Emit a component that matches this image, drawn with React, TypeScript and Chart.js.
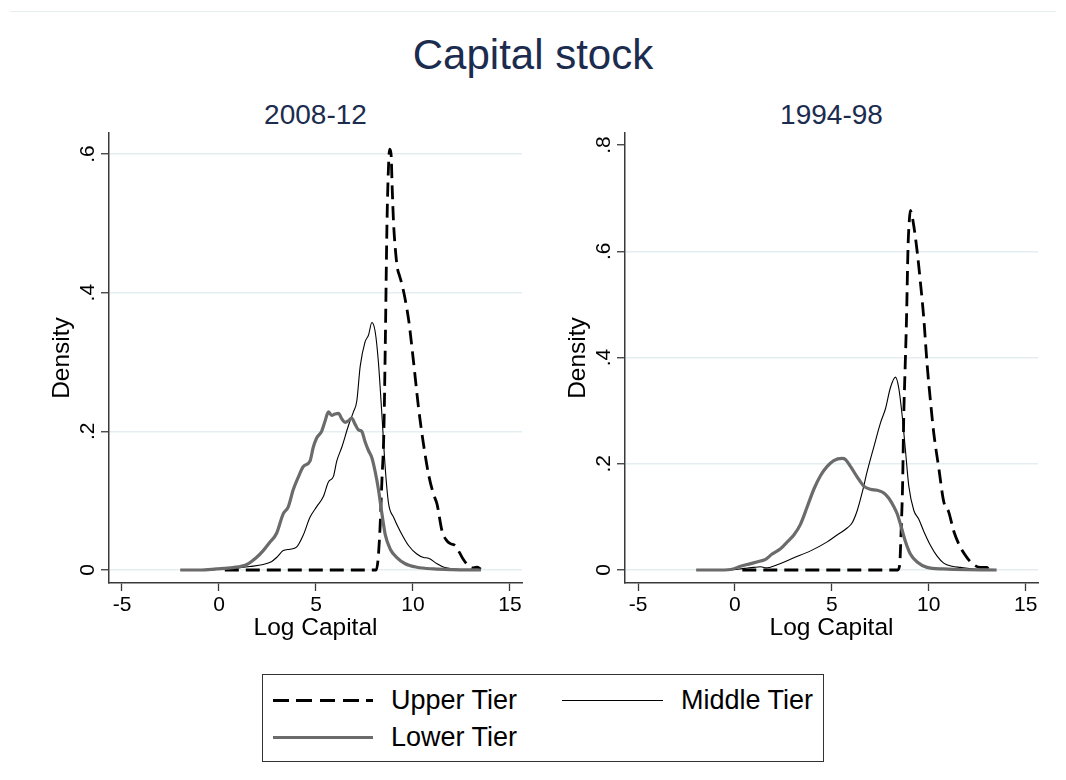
import React, { useEffect, useRef } from 'react';
import { Chart, registerables } from 'chart.js';
Chart.register(...registerables);

const FONT = "'Liberation Sans', Arial, Helvetica, sans-serif";
const AXIS = '#3a3a3a';
const GRID = 'rgb(228,237,240)';
const TITLE_COLOR = '#1c2c4e';

const MAIN_TITLE = 'Capital stock';
const PANEL_TITLES = ['2008-12', '1994-98'];
const SERIES_LABELS = ['Upper Tier', 'Middle Tier', 'Lower Tier'];
const X_TITLE = 'Log Capital';
const Y_TITLE = 'Density';
const X_TICKS = [-5, 0, 5, 10, 15];
const Y_TICKS_2008 = [0, 0.2, 0.4, 0.6];
const Y_TICKS_1994 = [0, 0.2, 0.4, 0.6, 0.8];

// ---- 2008-12 ----
const upperX_2008 = [0.3, 8.1, 8.2, 8.3, 8.4, 8.5, 8.57, 8.66, 8.75, 8.8, 8.87, 8.93, 9.0, 9.1, 9.2, 9.3, 9.45, 9.6, 9.78, 10.03, 10.29, 10.55, 10.81, 11.05, 11.24, 11.5, 11.75, 11.93, 12.19, 12.4, 12.6, 12.8, 13.05, 13.3, 13.5];
const upperY_2008 = [0, 0, 0.015, 0.06, 0.13, 0.2, 0.32, 0.5, 0.59, 0.607, 0.6, 0.55, 0.5, 0.46, 0.435, 0.425, 0.41, 0.39, 0.36, 0.3, 0.233, 0.18, 0.137, 0.11, 0.095, 0.056, 0.042, 0.038, 0.035, 0.025, 0.015, 0.008, 0.003, 0.004, 0.001];
const middleX_2008 = [-0.5, 0, 0.5, 1.0, 1.59, 2.28, 2.7, 2.97, 3.31, 3.66, 4.0, 4.34, 4.69, 5.03, 5.38, 5.64, 5.9, 6.07, 6.33, 6.67, 6.93, 7.1, 7.28, 7.53, 7.71, 7.88, 8.05, 8.22, 8.4, 8.57, 8.74, 9.0, 9.34, 9.78, 10.2, 10.55, 10.8, 11.24, 11.6, 12.3, 13.5];
const middleY_2008 = [0, 0.001, 0.002, 0.003, 0.005, 0.008, 0.012, 0.018, 0.028, 0.03, 0.033, 0.05, 0.076, 0.091, 0.106, 0.127, 0.135, 0.157, 0.177, 0.208, 0.228, 0.243, 0.294, 0.329, 0.339, 0.357, 0.344, 0.299, 0.223, 0.147, 0.096, 0.076, 0.056, 0.035, 0.023, 0.018, 0.017, 0.009, 0.004, 0.001, 0];
const lowerX_2008 = [-2, -1, -0.14, 0.72, 1.41, 1.93, 2.28, 2.62, 2.97, 3.31, 3.57, 3.83, 4.09, 4.34, 4.69, 4.86, 5.03, 5.29, 5.47, 5.64, 5.81, 5.98, 6.16, 6.33, 6.5, 6.67, 6.84, 7.02, 7.19, 7.36, 7.53, 7.71, 7.88, 8.05, 8.22, 8.4, 8.57, 8.83, 9.17, 9.6, 10.2, 11.07, 12, 13.5];
const lowerY_2008 = [0, 0, 0.0015, 0.0035, 0.0076, 0.018, 0.028, 0.04, 0.053, 0.081, 0.091, 0.116, 0.134, 0.149, 0.157, 0.177, 0.19, 0.2, 0.215, 0.228, 0.223, 0.225, 0.226, 0.218, 0.213, 0.215, 0.219, 0.21, 0.202, 0.2, 0.185, 0.172, 0.162, 0.142, 0.116, 0.081, 0.051, 0.03, 0.018, 0.009, 0.004, 0.0015, 0.0005, 0];

// ---- 1994-98 ----
const upperX_1994 = [0.38, 8.4, 8.5, 8.58, 8.65, 8.71, 8.78, 8.85, 8.93, 9.0, 9.05, 9.12, 9.23, 9.4, 9.57, 9.74, 9.91, 10.09, 10.26, 10.52, 10.77, 11.03, 11.29, 11.63, 11.98, 12.32, 12.66, 13.0, 13.1];
const upperY_1994 = [0, 0, 0.01, 0.08, 0.16, 0.29, 0.38, 0.47, 0.607, 0.66, 0.677, 0.67, 0.647, 0.6, 0.541, 0.475, 0.389, 0.317, 0.257, 0.191, 0.129, 0.109, 0.073, 0.043, 0.023, 0.01, 0.005, 0.005, 0];
const middleX_1994 = [-0.2, 0.5, 0.98, 1.32, 1.6, 2.18, 3.04, 3.9, 4.76, 5.27, 5.79, 6.05, 6.31, 6.56, 6.82, 7.16, 7.51, 7.77, 8.02, 8.28, 8.45, 8.63, 8.8, 8.97, 9.23, 9.48, 9.74, 10.09, 10.43, 10.77, 11.2, 11.63, 12.32, 13.0];
const middleY_1994 = [0, 0.003, 0.005, 0.006, 0.004, 0.01, 0.023, 0.036, 0.053, 0.066, 0.079, 0.089, 0.112, 0.145, 0.185, 0.231, 0.277, 0.304, 0.343, 0.363, 0.343, 0.29, 0.224, 0.158, 0.112, 0.096, 0.073, 0.046, 0.026, 0.013, 0.007, 0.005, 0.002, 0];
const lowerX_1994 = [-2, -1, -0.22, 0.29, 0.81, 1.32, 1.58, 1.92, 2.35, 2.7, 3.04, 3.38, 3.73, 4.07, 4.42, 4.76, 5.1, 5.53, 5.7, 5.96, 6.31, 6.65, 6.99, 7.34, 7.68, 7.94, 8.2, 8.37, 8.54, 8.8, 9.05, 9.4, 9.91, 10.77, 12, 13.5];
const lowerY_1994 = [0, 0, 0.001, 0.007, 0.012, 0.017, 0.02, 0.03, 0.04, 0.053, 0.066, 0.086, 0.119, 0.152, 0.178, 0.195, 0.206, 0.21, 0.208, 0.195, 0.175, 0.158, 0.152, 0.15, 0.145, 0.135, 0.119, 0.106, 0.086, 0.053, 0.03, 0.015, 0.005, 0.002, 0.0005, 0];

type PanelSpec = {
  left: number; width: number; yWidth: number; padRight: number;
  xMin: number; xMax: number; yMin: number; yMax: number; yTicks: number[];
  yTitlePad: number;
  upper: [number[], number[]]; middle: [number[], number[]]; lower: [number[], number[]];
};

const PANELS: PanelSpec[] = [
  {
    left: 0, width: 533, yWidth: 109, padRight: 11,
    xMin: -5.67, xMax: 15.62, yMin: -0.01875, yMax: 0.6303, yTicks: Y_TICKS_2008,
    yTitlePad: 48,
    upper: [upperX_2008, upperY_2008], middle: [middleX_2008, middleY_2008], lower: [lowerX_2008, lowerY_2008],
  },
  {
    left: 533, width: 533, yWidth: 92, padRight: 28,
    xMin: -5.671, xMax: 15.635, yMin: -0.02447, yMax: 0.8226, yTicks: Y_TICKS_1994,
    yTitlePad: 31,
    upper: [upperX_1994, upperY_1994], middle: [middleX_1994, middleY_1994], lower: [lowerX_1994, lowerY_1994],
  },
];

const CANVAS_H = 660;
const PLOT_TOP = 133;
const PLOT_BOTTOM = 583;
const TICK_FONT = 21;
const AXIS_TITLE_FONT = 24.5;

const toPts = (xs: number[], ys: number[]) => xs.map((x, i) => ({ x, y: ys[i] }));

function buildConfig(p: PanelSpec): any {
  const common = { pointRadius: 0, fill: false, cubicInterpolationMode: 'monotone', borderCapStyle: 'butt', borderJoinStyle: 'round' };
  return {
    type: 'line',
    data: {
      datasets: [
        { ...common, label: SERIES_LABELS[0], data: toPts(p.upper[0], p.upper[1]), borderColor: '#000', borderWidth: 2.8, borderDash: [14, 7], order: 3 },
        { ...common, label: SERIES_LABELS[1], data: toPts(p.middle[0], p.middle[1]), borderColor: '#000', borderWidth: 1.1, order: 2 },
        { ...common, label: SERIES_LABELS[2], data: toPts(p.lower[0], p.lower[1]), borderColor: '#6b6b6b', borderWidth: 3.2, order: 1 },
      ],
    },
    options: {
      responsive: false,
      animation: false,
      devicePixelRatio: 1,
      layout: { padding: { left: 0, top: PLOT_TOP, right: p.padRight, bottom: 0 } },
      plugins: { legend: { display: false }, title: { display: false }, tooltip: { enabled: false } },
      scales: {
        x: {
          type: 'linear', min: p.xMin, max: p.xMax,
          afterBuildTicks: (s: any) => { s.ticks = X_TICKS.map((v) => ({ value: v })); },
          afterFit: (s: any) => { s.height = CANVAS_H - PLOT_BOTTOM; },
          grid: { drawOnChartArea: false, drawTicks: true, tickLength: 8, tickColor: AXIS, tickWidth: 1.3 },
          border: { display: true, color: AXIS, width: 1.5 },
          ticks: { color: '#000', font: { family: FONT, size: TICK_FONT }, padding: 2, maxRotation: 0, minRotation: 0, autoSkip: false, callback: (v: any) => String(v) },
          title: { display: true, text: X_TITLE, color: '#000', font: { family: FONT, size: AXIS_TITLE_FONT }, padding: { top: 0, bottom: 17 } },
        },
        y: {
          type: 'linear', min: p.yMin, max: p.yMax,
          afterBuildTicks: (s: any) => { s.ticks = p.yTicks.map((v) => ({ value: v })); },
          afterFit: (s: any) => { s.width = p.yWidth; },
          grid: {
            color: (c: any) => (c.tick && c.tick.value === 0.8 ? 'rgba(0,0,0,0)' : GRID),
            lineWidth: 1.5, drawTicks: true, tickLength: 8, tickColor: AXIS, tickWidth: 1.3,
          },
          border: { display: true, color: AXIS, width: 1.5 },
          ticks: {
            color: '#000', font: { family: FONT, size: TICK_FONT }, padding: 4, minRotation: 90, maxRotation: 90, crossAlign: 'center', autoSkip: false,
            callback: (v: any) => (v === 0 ? '0' : String(v).replace(/^0/, '')),
          },
          title: { display: true, text: Y_TITLE, color: '#000', font: { family: FONT, size: AXIS_TITLE_FONT }, padding: { top: p.yTitlePad, bottom: 0 } },
        },
      },
    },
  };
}

function Panel({ spec }: { spec: PanelSpec }) {
  const ref = useRef<HTMLCanvasElement>(null);
  useEffect(() => {
    const chart = new Chart(ref.current as HTMLCanvasElement, buildConfig(spec));
    return () => chart.destroy();
  }, [spec]);
  return (
    <canvas
      ref={ref}
      width={spec.width}
      height={CANVAS_H}
      style={{ position: 'absolute', left: spec.left, top: 0, width: spec.width, height: CANVAS_H }}
    />
  );
}

const abs = (s: React.CSSProperties): React.CSSProperties => ({ position: 'absolute', ...s });

export default function App() {
  const legendFont = 27;
  const titleFont = 42;
  return (
    <div style={abs({ left: 0, top: 0, width: 1066, height: 780, background: '#fff', fontFamily: FONT, overflow: 'hidden' })}>
      <div style={abs({ left: 10, top: 11, width: 1046, height: 1, background: 'rgb(230,238,240)' })} />
      <div style={abs({ left: 0, top: 55 - 0.49 * titleFont, width: 1066, textAlign: 'center', fontSize: titleFont, lineHeight: titleFont + 'px', color: TITLE_COLOR, whiteSpace: 'nowrap' })}>{MAIN_TITLE}</div>
      <div style={abs({ left: 109, top: 101, width: 413, textAlign: 'center', fontSize: 28, lineHeight: '28px', color: TITLE_COLOR, whiteSpace: 'nowrap' })}>{PANEL_TITLES[0]}</div>
      <div style={abs({ left: 625, top: 101, width: 413, textAlign: 'center', fontSize: 28, lineHeight: '28px', color: TITLE_COLOR, whiteSpace: 'nowrap' })}>{PANEL_TITLES[1]}</div>
      {PANELS.map((p, i) => <Panel key={i} spec={p} />)}
      <div style={abs({ left: 262, top: 674, width: 562, height: 88, boxSizing: 'border-box', border: '1px solid #333' })} />
      <div style={abs({ left: 273, top: 698.5, width: 100, height: 3, backgroundImage: 'repeating-linear-gradient(to right, #000 0px, #000 15.7px, transparent 15.7px, transparent 23.3px)' })} />
      <div style={abs({ left: 391, top: 700 - 0.49 * legendFont, fontSize: legendFont, lineHeight: legendFont + 'px', color: '#000', whiteSpace: 'nowrap' })}>{SERIES_LABELS[0]}</div>
      <div style={abs({ left: 562, top: 699.5, width: 101, height: 1, background: '#000' })} />
      <div style={abs({ left: 681, top: 700 - 0.49 * legendFont, fontSize: legendFont, lineHeight: legendFont + 'px', color: '#000', whiteSpace: 'nowrap' })}>{SERIES_LABELS[1]}</div>
      <div style={abs({ left: 273, top: 735.5, width: 100, height: 3, background: '#6b6b6b' })} />
      <div style={abs({ left: 391, top: 737 - 0.49 * legendFont, fontSize: legendFont, lineHeight: legendFont + 'px', color: '#000', whiteSpace: 'nowrap' })}>{SERIES_LABELS[2]}</div>
    </div>
  );
}
